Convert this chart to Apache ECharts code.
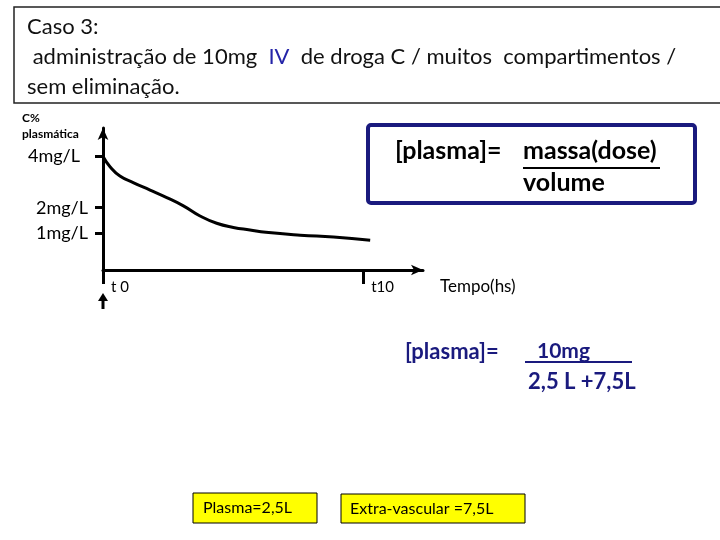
<!DOCTYPE html>
<html lang="pt">
<head>
<meta charset="UTF-8">
<title>Caso 3</title>
<script src="https://cdn.jsdelivr.net/npm/echarts@6/dist/echarts.min.js"></script>
<style>html,body{margin:0;padding:0;background:#fff}</style>
</head>
<body>
<div id="main" style="width:720px;height:540px;"></div>
<script type="text/javascript">
var tempo = [0, 0.27, 0.65, 1.18, 1.81, 2.45, 3.09, 3.73, 4.37, 5.01, 5.65, 6.26, 7.58, 8.86, 10.27];
var concentracao = [3.97, 3.58, 3.22, 2.96, 2.68, 2.39, 2.07, 1.68, 1.40, 1.24, 1.14, 1.05, 0.94, 0.87, 0.75];
var yTicks = [1, 2, 4];
var xTicks = [0, 10];
var xTickLabels = ['t 0', 't10'];

var FONT = 'Lato, "Noto Sans", sans-serif';
var NAVY = '#1a1a7e';

var myChart = echarts.init(document.getElementById('main'));

var pontos = tempo.map(function (t, i) { return [t, concentracao[i]]; });

var option = {
    animation: false,
    backgroundColor: '#fff',
    grid: { left: 103, right: 297, top: 128, bottom: 270 },
    xAxis: {
        type: 'value',
        min: 0,
        max: 12.3,
        name: 'Tempo(hs)',
        nameLocation: 'end',
        nameGap: 17,
        nameTextStyle: { fontFamily: FONT, fontSize: 17, color: '#000', verticalAlign: 'top', padding: [8, 0, 0, 0] },
        axisLine: { onZero: false, symbol: ['none', 'arrow'], symbolSize: [8, 12], lineStyle: { color: '#000', width: 3 } },
        axisTick: { customValues: xTicks, length: 14, lineStyle: { color: '#000', width: 3 } },
        axisLabel: {
            customValues: xTicks,
            formatter: function (v) { return xTickLabels[xTicks.indexOf(v)]; },
            align: 'left',
            padding: [0, 0, 0, 8],
            margin: 10,
            fontFamily: FONT, fontSize: 15, color: '#000'
        },
        splitLine: { show: false }
    },
    yAxis: {
        type: 'value',
        min: -0.4,
        max: 5.07,
        axisLine: { onZero: false, symbol: ['none', 'arrow'], symbolSize: [8, 12], lineStyle: { color: '#000', width: 3 } },
        axisTick: { customValues: yTicks, length: 8, lineStyle: { color: '#000', width: 3 } },
        axisLabel: {
            customValues: yTicks,
            formatter: function (v) { return v === 4 ? '{w|' + v + 'mg/L}' : v + 'mg/L'; },
            rich: { w: { fontFamily: FONT, fontSize: 18, color: '#000', padding: [0, 8, 0, 0] } },
            margin: 15,
            fontFamily: FONT, fontSize: 18, color: '#000'
        },
        splitLine: { show: false }
    },
    series: [{
        type: 'line',
        data: pontos,
        smooth: true,
        showSymbol: false,
        lineStyle: { color: '#000', width: 3 }
    }],
    graphic: [
        // caixa do título
        { type: 'rect', shape: { x: 14, y: 7, width: 720, height: 96 }, style: { fill: 'none', stroke: '#222', lineWidth: 1.5 } },
        {
            type: 'text', x: 27, y: 12,
            style: {
                text: 'Caso 3:\n administração de 10mg  {b|IV}  de droga C / muitos  compartimentos /\nsem eliminação.',
                font: '22px ' + FONT, fill: '#111', lineHeight: 30,
                rich: { b: { fill: '#2424a8', font: '22px ' + FONT } }
            }
        },
        // nome do eixo y
        { type: 'text', x: 22, y: 110, style: { text: 'C%\nplasmática', font: 'bold 12px ' + FONT, fill: '#000', lineHeight: 16 } },
        // seta da dose IV
        { type: 'polygon', shape: { points: [[98, 301], [108, 301], [103, 293]] }, style: { fill: '#000' } },
        { type: 'line', shape: { x1: 103, y1: 299, x2: 103, y2: 309 }, style: { stroke: '#000', lineWidth: 3 } },
        // fórmula geral
        { type: 'rect', shape: { x: 368, y: 125, width: 327, height: 78, r: 3 }, style: { fill: '#fff', stroke: NAVY, lineWidth: 4 } },
        { type: 'text', x: 395, y: 151, style: { text: '[plasma]=', font: 'bold 25px ' + FONT, fill: '#000', verticalAlign: 'middle' } },
        { type: 'text', x: 523, y: 151, style: { text: 'massa(dose)', font: 'bold 25px ' + FONT, fill: '#000', verticalAlign: 'middle' } },
        { type: 'line', shape: { x1: 523, y1: 168, x2: 660, y2: 168 }, style: { stroke: '#000', lineWidth: 2 } },
        { type: 'text', x: 523, y: 183, style: { text: 'volume', font: 'bold 25px ' + FONT, fill: '#000', verticalAlign: 'middle' } },
        // fórmula do caso
        { type: 'text', x: 405, y: 352, style: { text: '[plasma]=', font: 'bold 22px ' + FONT, fill: NAVY, verticalAlign: 'middle' } },
        { type: 'text', x: 537, y: 351, style: { text: '10mg', font: 'bold 21px ' + FONT, fill: NAVY, verticalAlign: 'middle' } },
        { type: 'line', shape: { x1: 525, y1: 362, x2: 632, y2: 362 }, style: { stroke: NAVY, lineWidth: 2 } },
        { type: 'text', x: 528, y: 382, style: { text: '2,5 L +7,5L', font: 'bold 22px ' + FONT, fill: NAVY, verticalAlign: 'middle' } },
        // volumes
        { type: 'rect', shape: { x: 193, y: 493, width: 124, height: 30 }, style: { fill: '#ffff00', stroke: '#000', lineWidth: 1 } },
        { type: 'text', x: 203, y: 508, style: { text: 'Plasma=2,5L', font: '16px ' + FONT, fill: '#000', verticalAlign: 'middle' } },
        { type: 'rect', shape: { x: 341, y: 494, width: 184, height: 29 }, style: { fill: '#ffff00', stroke: '#000', lineWidth: 1 } },
        { type: 'text', x: 350, y: 509, style: { text: 'Extra-vascular =7,5L', font: '16px ' + FONT, fill: '#000', verticalAlign: 'middle' } }
    ]
};

myChart.setOption(option);
</script>
</body>
</html>
